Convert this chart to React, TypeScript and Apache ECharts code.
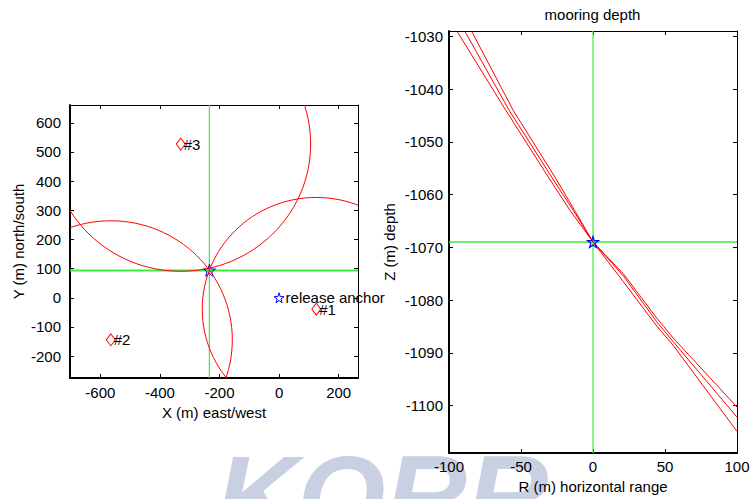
import React, { useEffect, useRef } from 'react';
import * as echarts from 'echarts';

// Plan view: transponder positions (m), horizontal ranges to the mooring (m)
const transponderX = [125, -565, -330];
const transponderY = [-39, -144, 527];
const transponderNames = ['#1', '#2', '#3'];
const horizontalRanges = [383, 408, 436];
const releaseAnchor = [0, 0];
const fixPosition = [-234, 94];

// Depth view: fix depth and the three range/depth solutions
const fixRange = 0;
const fixDepth = -1069;
const profileR1 = [-94.1, -60.4, -31.0, -16.0, 0, 21, 44.2, 55.7, 100];
const profileZ1 = [-1029.2, -1044.1, -1056.7, -1063.0, -1069, -1076.5, -1084.9, -1088.6, -1104.9];
const profileR2 = [-88.7, -58.1, -28.7, -13.7, 0, 21, 44.2, 55.7, 100];
const profileZ2 = [-1029.2, -1044.1, -1056.7, -1063.0, -1069, -1075.4, -1084.1, -1087.9, -1102.2];
const profileR3 = [-84.0, -55.3, -26.4, -12.8, 0, 21, 44.2, 55.7, 100];
const profileZ3 = [-1029.2, -1044.1, -1056.7, -1063.0, -1069, -1075.0, -1083.4, -1087.2, -1100.3];

// Axis limits and tick labels
const xLimits = [-702, 265];
const yLimits = [-275, 661];
const xTicks = [-600, -400, -200, 0, 200];
const yTicks = [-200, -100, 0, 100, 200, 300, 400, 500, 600];
const rLimits = [-100, 100];
const zLimits = [-1109, -1029];
const zTicks = [-1100, -1090, -1080, -1070, -1060, -1050, -1040, -1030];

const FONT = 'Liberation Sans, Arial, Helvetica, sans-serif';
const FS = 15;
const RED = '#ff0000';
const GREEN = '#3cee3c';
const BLUE = '#0000ff';

const starSymbol = (() => {
  let d = '';
  for (let i = 0; i < 10; i++) {
    const r = i % 2 ? 0.382 : 1;
    const a = -Math.PI / 2 + (i * Math.PI) / 5;
    d += (i ? 'L' : 'M') + (r * Math.cos(a)).toFixed(3) + ' ' + (r * Math.sin(a)).toFixed(3);
  }
  return 'path://' + d + 'Z';
})();

const zip = (a: number[], b: number[]) => a.map((v, i) => [v, b[i]]);

function boxAxis(gridIndex: number, position: string, min: number, max: number, ticks: number[] | null, interval: number | null, withLabels: boolean, lineWidth: number, labelMargin: number, name?: string, nameGap?: number) {
  const ax: any = {
    type: 'value',
    gridIndex,
    position,
    min,
    max,
    splitLine: { show: false },
    axisLine: { show: true, onZero: false, lineStyle: { color: '#000', width: lineWidth } },
    axisTick: { show: true, inside: true, length: 4, lineStyle: { color: '#000', width: 1 } },
    axisLabel: {
      show: withLabels,
      color: '#000',
      fontSize: FS,
      fontFamily: FONT,
      margin: labelMargin,
      showMinLabel: true,
      showMaxLabel: true,
      formatter: (v: number) => String(v),
    },
  };
  if (ticks) {
    ax.axisTick.customValues = ticks;
    ax.axisLabel.customValues = ticks;
  }
  if (interval) ax.interval = interval;
  if (name) {
    ax.name = name;
    ax.nameLocation = 'middle';
    ax.nameGap = nameGap;
    ax.nameTextStyle = { color: '#000', fontSize: FS, fontFamily: FONT };
  }
  return ax;
}

const markerLabel = (distance: number) => ({
  show: true,
  position: 'right',
  distance,
  formatter: '{b}',
  color: '#000',
  opacity: 1,
  fontSize: FS,
  fontFamily: FONT,
});

export default function App() {
  const ref = useRef<HTMLDivElement>(null);

  useEffect(() => {
    if (!ref.current) return;
    const chart = echarts.init(ref.current, undefined, { renderer: 'svg' });

    const profileLine = (r: number[], z: number[]) => ({
      type: 'line',
      xAxisIndex: 2,
      yAxisIndex: 2,
      data: zip(r, z),
      symbol: 'none',
      clip: true,
      lineStyle: { color: RED, width: 1 },
      z: 3,
    });

    // green guide line spanning the whole plot at a fixed value
    const guide = (axisIdx: number, pts: number[][], width: number) => ({
      type: 'line',
      xAxisIndex: axisIdx,
      yAxisIndex: axisIdx,
      data: pts,
      symbol: 'none',
      silent: true,
      clip: true,
      lineStyle: { color: GREEN, width, opacity: 1 },
      z: 1,
    });

    const option: any = {
      animation: false,
      backgroundColor: '#ffffff',
      grid: [
        { left: 70, top: 105, width: 288, height: 273 },
        { left: 449, top: 31, width: 288, height: 422 },
      ],
      xAxis: [
        boxAxis(0, 'bottom', xLimits[0], xLimits[1], xTicks, null, true, 2, 7, 'X (m) east/west', 25),
        boxAxis(0, 'top', xLimits[0], xLimits[1], xTicks, null, false, 1, 8),
        boxAxis(1, 'bottom', rLimits[0], rLimits[1], null, 50, true, 2, 6, 'R (m) horizontal range', 24),
        boxAxis(1, 'top', rLimits[0], rLimits[1], null, 50, false, 1, 8),
      ],
      yAxis: [
        boxAxis(0, 'left', yLimits[0], yLimits[1], yTicks, null, true, 2, 9, 'Y (m) north/south', 44),
        boxAxis(0, 'right', yLimits[0], yLimits[1], yTicks, null, false, 1, 8),
        boxAxis(1, 'left', zLimits[0], zLimits[1], zTicks, null, true, 2, 6, 'Z (m) depth', 52),
        boxAxis(1, 'right', zLimits[0], zLimits[1], zTicks, null, false, 1, 8),
      ],
      graphic: [
        {
          type: 'text',
          z: -10,
          silent: true,
          x: 216,
          y: 496,
          style: {
            text: 'KORR',
            fill: '#c8d0e2',
            font: 'italic bold 113px ' + FONT,
            verticalAlign: 'middle',
          },
        },
        {
          type: 'text',
          x: 592.5,
          y: 14,
          style: {
            text: 'mooring depth',
            fill: '#000',
            font: FS + 'px ' + FONT,
            align: 'center',
            verticalAlign: 'middle',
          },
        },
      ],
      series: [
        // crosshair through the position fix (plan view)
        guide(0, [[fixPosition[0], yLimits[0]], [fixPosition[0], yLimits[1]]], 1.2),
        guide(0, [[xLimits[0], fixPosition[1]], [xLimits[1], fixPosition[1]]], 2),
        {
          type: 'scatter',
          xAxisIndex: 0,
          yAxisIndex: 0,
          data: [fixPosition],
          symbol: starSymbol,
          symbolSize: 12,
          itemStyle: { color: 'rgba(0,0,0,0)', borderColor: BLUE, borderWidth: 1, opacity: 1 },
          z: 2,
        },
        // horizontal range circles around each transponder
        {
          type: 'custom',
          xAxisIndex: 0,
          yAxisIndex: 0,
          z: 3,
          data: transponderX.map((x, i) => [x, transponderY[i], horizontalRanges[i]]),
          encode: { x: 0, y: 1 },
          renderItem: (params: any, api: any) => {
            const c = api.coord([api.value(0), api.value(1)]);
            const s = api.size([api.value(2), api.value(2)]);
            const cs = params.coordSys;
            return {
              type: 'ellipse',
              shape: { cx: c[0], cy: c[1], rx: s[0], ry: s[1] },
              style: { fill: 'none', stroke: RED, lineWidth: 1 },
              clipPath: { type: 'rect', shape: { x: cs.x, y: cs.y, width: cs.width, height: cs.height } },
            };
          },
        },
        // release anchor
        {
          type: 'scatter',
          xAxisIndex: 0,
          yAxisIndex: 0,
          data: [{ value: releaseAnchor, name: 'release anchor' }],
          symbol: starSymbol,
          symbolSize: 10,
          itemStyle: { color: 'rgba(0,0,0,0)', borderColor: BLUE, borderWidth: 1, opacity: 1 },
          label: markerLabel(1),
          z: 4,
        },
        // transponders
        {
          type: 'scatter',
          xAxisIndex: 0,
          yAxisIndex: 0,
          data: transponderX.map((x, i) => ({ value: [x, transponderY[i]], name: transponderNames[i] })),
          symbol: 'diamond',
          symbolSize: [9, 12],
          itemStyle: { color: 'rgba(0,0,0,0)', borderColor: RED, borderWidth: 1, opacity: 1 },
          label: markerLabel(-2),
          z: 4,
        },
        // crosshair through the depth fix (depth view)
        guide(2, [[fixRange, zLimits[0]], [fixRange, zLimits[1]]], 1.2),
        guide(2, [[rLimits[0], fixDepth], [rLimits[1], fixDepth]], 1.5),
        profileLine(profileR1, profileZ1),
        profileLine(profileR2, profileZ2),
        profileLine(profileR3, profileZ3),
        {
          type: 'scatter',
          xAxisIndex: 2,
          yAxisIndex: 2,
          data: [[fixRange, fixDepth]],
          symbol: starSymbol,
          symbolSize: 11,
          itemStyle: { color: 'rgba(0,0,0,0)', borderColor: BLUE, borderWidth: 1.2, opacity: 1 },
          z: 4,
        },
      ],
    };

    chart.setOption(option);
    return () => chart.dispose();
  }, []);

  return <div ref={ref} style={{ position: 'fixed', left: 0, top: 0, width: 753, height: 499 }} />;
}
